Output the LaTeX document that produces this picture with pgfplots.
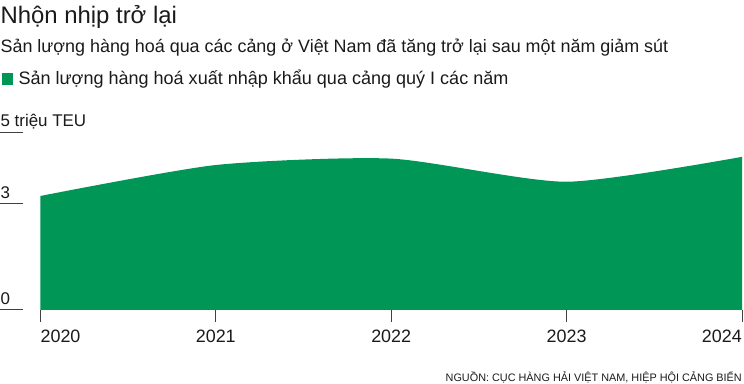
\documentclass[border=0pt]{standalone}
\usepackage{pgfplots}
\pgfplotsset{compat=1.18}
\usepackage{fontspec}
\setmainfont{Liberation Sans}
\definecolor{vngreen}{RGB}{0,150,85}
\definecolor{txt}{RGB}{26,26,26}
\begin{document}
\begin{tikzpicture}[x=1bp,y=1bp]
\path (0,0) rectangle (744,384);
% titles
\node[anchor=base west,inner sep=0,text=txt,font=\fontsize{24}{28}\selectfont] at (0,360) {Nhộn nhịp trở lại};
\node[anchor=base west,inner sep=0,text=txt,font=\fontsize{18}{20}\selectfont] at (0,331) {Sản lượng hàng hoá qua các cảng ở Việt Nam đã tăng trở lại sau một năm giảm sút};
\fill[vngreen] (2,299) rectangle (13,311);
\node[anchor=base west,inner sep=0,text=txt,font=\fontsize{18.1}{20}\selectfont] at (18,299) {Sản lượng hàng hoá xuất nhập khẩu qua cảng quý I các năm};
\begin{axis}[
  at={(40bp,74bp)}, anchor=south west,
  scale only axis, width=702bp, height=178bp,
  xmin=2020, xmax=2024, ymin=0, ymax=5,
  axis lines=none, clip=false,
  xtick=\empty, ytick=\empty,
]
\addplot[draw=none, fill=vngreen, smooth, tension=0.4] coordinates {
(2020,3.20) (2021,4.07) (2022,4.25) (2023,3.60) (2024,4.30)
} \closedcycle;
\end{axis}
% y gridline stubs and labels
\foreach \v/\py in {0/74, 3/180.8, 5/252}{
  \draw[black!75,line width=0.8bp] (0,\py) -- (23,\py);
}
\node[anchor=base west,inner sep=0,text=txt,font=\fontsize{17}{20}\selectfont] at (0,79) {0};
\node[anchor=base west,inner sep=0,text=txt,font=\fontsize{17}{20}\selectfont] at (0,185.8) {3};
\node[anchor=base west,inner sep=0,text=txt,font=\fontsize{17}{20}\selectfont] at (0,257) {5 triệu TEU};
% x ticks
\foreach \px in {40,215.5,391,566.5,742}{
  \draw[black!75,line width=0.8bp] (\px,74) -- (\px,62);
}
\node[anchor=base west,inner sep=0,text=txt,font=\fontsize{18}{20}\selectfont] at (40,41) {2020};
\node[anchor=base,inner sep=0,text=txt,font=\fontsize{18}{20}\selectfont] at (215.5,41) {2021};
\node[anchor=base,inner sep=0,text=txt,font=\fontsize{18}{20}\selectfont] at (391,41) {2022};
\node[anchor=base,inner sep=0,text=txt,font=\fontsize{18}{20}\selectfont] at (566.5,41) {2023};
\node[anchor=base east,inner sep=0,text=txt,font=\fontsize{18}{20}\selectfont] at (742,41) {2024};
\node[anchor=base east,inner sep=0,text=txt,font=\fontsize{10.9}{12}\selectfont] at (742,2) {NGUỒN: CỤC HÀNG HẢI VIỆT NAM, HIỆP HỘI CẢNG BIỂN};
\end{tikzpicture}
\end{document}
